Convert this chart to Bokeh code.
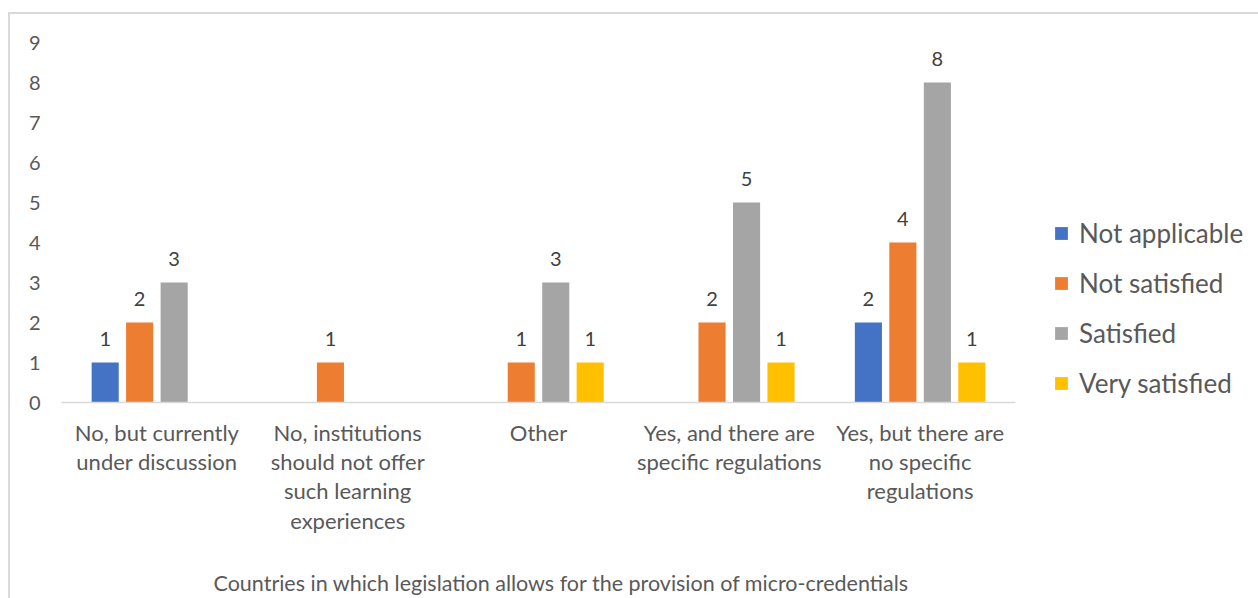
from bokeh.plotting import figure
from bokeh.models import ColumnDataSource, Legend, LegendItem, Title, FixedTicker
from bokeh.transform import dodge
from bokeh.embed import file_html
from bokeh.resources import INLINE
from bokeh.core.properties import value

categories = [
    "No, but currently\nunder discussion",
    "No, institutions\nshould not offer\nsuch learning\nexperiences",
    "Other",
    "Yes, and there are\nspecific regulations",
    "Yes, but there are\nno specific\nregulations",
]
series_names = ["Not applicable", "Not satisfied", "Satisfied", "Very satisfied"]
not_applicable = [1, 0, 0, 0, 2]
not_satisfied = [2, 1, 1, 2, 4]
satisfied = [3, 0, 3, 5, 8]
very_satisfied = [0, 0, 1, 1, 1]
y_ticks = [0, 1, 2, 3, 4, 5, 6, 7, 8, 9]
x_title = "Countries in which legislation allows for the provision of micro-credentials"

series_values = [not_applicable, not_satisfied, satisfied, very_satisfied]
colors = ["#4472C4", "#ED7D31", "#A5A5A5", "#FFC000"]
offsets = [-0.271, -0.0905, 0.0905, 0.271]

FONT = "Lato"
TXT = "#595959"

p = figure(
    x_range=categories, y_range=(0, 9),
    frame_width=954, frame_height=360,
    min_border_left=51, min_border_right=243,
    min_border_top=28, min_border_bottom=196,
    output_backend="svg", toolbar_location=None,
)
p.styles = {"border-left": "2px solid #d9d9d9", "border-top": "2px solid #d9d9d9",
            "margin-top": "12px", "margin-left": "8px"}
p.outline_line_color = None
p.xgrid.visible = False
p.ygrid.visible = False

items = []
for name, vals, col, off in zip(series_names, series_values, colors, offsets):
    xs = [c for c, v in zip(categories, vals) if v > 0]
    tops = [v for v in vals if v > 0]
    src = ColumnDataSource(dict(x=xs, top=tops, label=[str(v) for v in tops]))
    r = p.vbar(x=dodge("x", off, range=p.x_range), top="top", width=0.142,
               source=src, fill_color=col, line_color=None)
    p.text(x=dodge("x", off, range=p.x_range), y="top", text="label", source=src,
           text_align="center", text_baseline="middle", y_offset=-24,
           text_font=value(FONT), text_font_size="20px", text_color="#404040")
    items.append(LegendItem(label=name, renderers=[r]))

legend = Legend(items=items, location=(38, 3), orientation="vertical",
                glyph_width=16, glyph_height=16, label_height=32, spacing=18,
                label_standoff=10, padding=10, margin=0, border_line_color=None,
                label_text_font=FONT, label_text_font_size="26px", label_text_color=TXT,
                background_fill_alpha=0)
p.add_layout(legend, "right")

yax = p.yaxis[0]
yax.ticker = FixedTicker(ticks=y_ticks)
yax.axis_line_color = None
yax.major_tick_line_color = None
yax.major_tick_out = 0
yax.minor_tick_line_color = None
yax.major_label_standoff = 21
yax.major_label_text_font = FONT
yax.major_label_text_font_size = "20px"
yax.major_label_text_color = TXT

xax = p.xaxis[0]
xax.axis_line_color = "#D9D9D9"
xax.axis_line_width = 1.5
xax.major_tick_line_color = None
xax.major_tick_out = 0
xax.minor_tick_line_color = None
xax.major_label_standoff = 16
xax.major_label_text_font = FONT
xax.major_label_text_font_size = "22px"
xax.major_label_text_color = TXT
xax.major_label_text_line_height = 1.09
xax.major_label_orientation = "horizontal"

t = Title(text=x_title, align="left", offset=152, text_font=FONT, text_font_size="21.5px",
          text_font_style="normal", text_color=TXT, standoff=63)
p.add_layout(t, "below")

open("out.html", "w").write(file_html(p, INLINE))
